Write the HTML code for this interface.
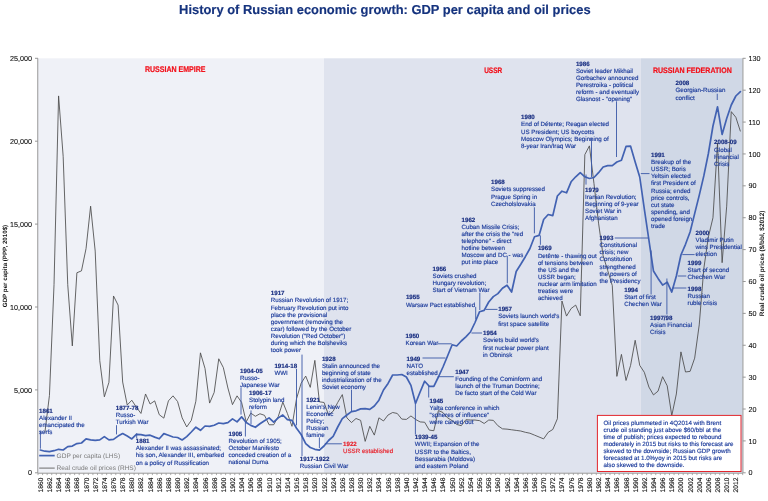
<!DOCTYPE html>
<html lang="en"><head><meta charset="utf-8"><title>History of Russian economic growth: GDP per capita and oil prices</title>
<style>html,body{margin:0;padding:0;background:#fff}svg{display:block;will-change:transform}</style></head>
<body>
<svg width="768" height="501" viewBox="0 0 768 501" text-rendering="geometricPrecision" font-family="'Liberation Sans', sans-serif">
<rect width="768" height="501" fill="#fff"/>
<rect x="38.0" y="58.3" width="286.00" height="414.50" fill="#eff1f7"/>
<rect x="324.00" y="58.3" width="316.80" height="414.50" fill="#dfe3ee"/>
<rect x="640.80" y="58.3" width="101.90" height="414.50" fill="#d0d8e6"/>
<g stroke="#979797" stroke-width="1" fill="none">
<path d="M37.75 58.3V472.8"/>
<path d="M742.95 58.3V472.8"/>
<path d="M37.75 473.2H742.95"/>
<path d="M35.0 472.80H38.0M35.0 389.90H38.0M35.0 307.00H38.0M35.0 224.10H38.0M35.0 141.20H38.0M35.0 58.30H38.0M742.70 472.80h3M742.70 440.92h3M742.70 409.03h3M742.70 377.15h3M742.70 345.26h3M742.70 313.38h3M742.70 281.49h3M742.70 249.61h3M742.70 217.72h3M742.70 185.84h3M742.70 153.95h3M742.70 122.07h3M742.70 90.18h3M742.70 58.30h3"/>
<path d="M38.00 473.2v1.9M42.58 473.2v1.9M47.15 473.2v1.9M51.73 473.2v1.9M56.30 473.2v1.9M60.88 473.2v1.9M65.46 473.2v1.9M70.03 473.2v1.9M74.61 473.2v1.9M79.18 473.2v1.9M83.76 473.2v1.9M88.34 473.2v1.9M92.91 473.2v1.9M97.49 473.2v1.9M102.06 473.2v1.9M106.64 473.2v1.9M111.22 473.2v1.9M115.79 473.2v1.9M120.37 473.2v1.9M124.94 473.2v1.9M129.52 473.2v1.9M134.10 473.2v1.9M138.67 473.2v1.9M143.25 473.2v1.9M147.82 473.2v1.9M152.40 473.2v1.9M156.98 473.2v1.9M161.55 473.2v1.9M166.13 473.2v1.9M170.70 473.2v1.9M175.28 473.2v1.9M179.86 473.2v1.9M184.43 473.2v1.9M189.01 473.2v1.9M193.58 473.2v1.9M198.16 473.2v1.9M202.74 473.2v1.9M207.31 473.2v1.9M211.89 473.2v1.9M216.46 473.2v1.9M221.04 473.2v1.9M225.62 473.2v1.9M230.19 473.2v1.9M234.77 473.2v1.9M239.34 473.2v1.9M243.92 473.2v1.9M248.50 473.2v1.9M253.07 473.2v1.9M257.65 473.2v1.9M262.22 473.2v1.9M266.80 473.2v1.9M271.38 473.2v1.9M275.95 473.2v1.9M280.53 473.2v1.9M285.10 473.2v1.9M289.68 473.2v1.9M294.26 473.2v1.9M298.83 473.2v1.9M303.41 473.2v1.9M307.98 473.2v1.9M312.56 473.2v1.9M317.14 473.2v1.9M321.71 473.2v1.9M326.29 473.2v1.9M330.86 473.2v1.9M335.44 473.2v1.9M340.02 473.2v1.9M344.59 473.2v1.9M349.17 473.2v1.9M353.74 473.2v1.9M358.32 473.2v1.9M362.90 473.2v1.9M367.47 473.2v1.9M372.05 473.2v1.9M376.62 473.2v1.9M381.20 473.2v1.9M385.78 473.2v1.9M390.35 473.2v1.9M394.93 473.2v1.9M399.50 473.2v1.9M404.08 473.2v1.9M408.66 473.2v1.9M413.23 473.2v1.9M417.81 473.2v1.9M422.38 473.2v1.9M426.96 473.2v1.9M431.54 473.2v1.9M436.11 473.2v1.9M440.69 473.2v1.9M445.26 473.2v1.9M449.84 473.2v1.9M454.42 473.2v1.9M458.99 473.2v1.9M463.57 473.2v1.9M468.14 473.2v1.9M472.72 473.2v1.9M477.30 473.2v1.9M481.87 473.2v1.9M486.45 473.2v1.9M491.02 473.2v1.9M495.60 473.2v1.9M500.18 473.2v1.9M504.75 473.2v1.9M509.33 473.2v1.9M513.90 473.2v1.9M518.48 473.2v1.9M523.06 473.2v1.9M527.63 473.2v1.9M532.21 473.2v1.9M536.78 473.2v1.9M541.36 473.2v1.9M545.94 473.2v1.9M550.51 473.2v1.9M555.09 473.2v1.9M559.66 473.2v1.9M564.24 473.2v1.9M568.82 473.2v1.9M573.39 473.2v1.9M577.97 473.2v1.9M582.54 473.2v1.9M587.12 473.2v1.9M591.70 473.2v1.9M596.27 473.2v1.9M600.85 473.2v1.9M605.42 473.2v1.9M610.00 473.2v1.9M614.58 473.2v1.9M619.15 473.2v1.9M623.73 473.2v1.9M628.30 473.2v1.9M632.88 473.2v1.9M637.46 473.2v1.9M642.03 473.2v1.9M646.61 473.2v1.9M651.18 473.2v1.9M655.76 473.2v1.9M660.34 473.2v1.9M664.91 473.2v1.9M669.49 473.2v1.9M674.06 473.2v1.9M678.64 473.2v1.9M683.22 473.2v1.9M687.79 473.2v1.9M692.37 473.2v1.9M696.94 473.2v1.9M701.52 473.2v1.9M706.10 473.2v1.9M710.67 473.2v1.9M715.25 473.2v1.9M719.82 473.2v1.9M724.40 473.2v1.9M728.98 473.2v1.9M733.55 473.2v1.9M738.13 473.2v1.9M742.70 473.2v1.9" stroke-width="0.8"/>
</g>
<g font-size="7.2" fill="#111" stroke="#111" stroke-width="0.1">
<text x="31.9" y="475.40" text-anchor="end">0</text>
<text x="31.9" y="392.50" text-anchor="end">5,000</text>
<text x="31.9" y="309.60" text-anchor="end">10,000</text>
<text x="31.9" y="226.70" text-anchor="end">15,000</text>
<text x="31.9" y="143.80" text-anchor="end">20,000</text>
<text x="31.9" y="60.90" text-anchor="end">25,000</text>
<text x="748.6" y="475.40">0</text>
<text x="748.6" y="443.52">10</text>
<text x="748.6" y="411.63">20</text>
<text x="748.6" y="379.75">30</text>
<text x="748.6" y="347.86">40</text>
<text x="748.6" y="315.98">50</text>
<text x="748.6" y="284.09">60</text>
<text x="748.6" y="252.21">70</text>
<text x="748.6" y="220.32">80</text>
<text x="748.6" y="188.44">90</text>
<text x="748.6" y="156.55">100</text>
<text x="748.6" y="124.67">110</text>
<text x="748.6" y="92.78">120</text>
<text x="748.6" y="60.90">130</text>
</g>
<g font-size="6.7" fill="#111" stroke="#111" stroke-width="0.12" text-anchor="end">
<text transform="translate(42.79 477.6) rotate(-90)">1860</text>
<text transform="translate(51.94 477.6) rotate(-90)">1862</text>
<text transform="translate(61.09 477.6) rotate(-90)">1864</text>
<text transform="translate(70.24 477.6) rotate(-90)">1866</text>
<text transform="translate(79.40 477.6) rotate(-90)">1868</text>
<text transform="translate(88.55 477.6) rotate(-90)">1870</text>
<text transform="translate(97.70 477.6) rotate(-90)">1872</text>
<text transform="translate(106.85 477.6) rotate(-90)">1874</text>
<text transform="translate(116.00 477.6) rotate(-90)">1876</text>
<text transform="translate(125.16 477.6) rotate(-90)">1878</text>
<text transform="translate(134.31 477.6) rotate(-90)">1880</text>
<text transform="translate(143.46 477.6) rotate(-90)">1882</text>
<text transform="translate(152.61 477.6) rotate(-90)">1884</text>
<text transform="translate(161.76 477.6) rotate(-90)">1886</text>
<text transform="translate(170.92 477.6) rotate(-90)">1888</text>
<text transform="translate(180.07 477.6) rotate(-90)">1890</text>
<text transform="translate(189.22 477.6) rotate(-90)">1892</text>
<text transform="translate(198.37 477.6) rotate(-90)">1894</text>
<text transform="translate(207.52 477.6) rotate(-90)">1896</text>
<text transform="translate(216.68 477.6) rotate(-90)">1898</text>
<text transform="translate(225.83 477.6) rotate(-90)">1900</text>
<text transform="translate(234.98 477.6) rotate(-90)">1902</text>
<text transform="translate(244.13 477.6) rotate(-90)">1904</text>
<text transform="translate(253.28 477.6) rotate(-90)">1906</text>
<text transform="translate(262.44 477.6) rotate(-90)">1908</text>
<text transform="translate(271.59 477.6) rotate(-90)">1910</text>
<text transform="translate(280.74 477.6) rotate(-90)">1912</text>
<text transform="translate(289.89 477.6) rotate(-90)">1914</text>
<text transform="translate(299.04 477.6) rotate(-90)">1916</text>
<text transform="translate(308.20 477.6) rotate(-90)">1918</text>
<text transform="translate(317.35 477.6) rotate(-90)">1920</text>
<text transform="translate(326.50 477.6) rotate(-90)">1922</text>
<text transform="translate(335.65 477.6) rotate(-90)">1924</text>
<text transform="translate(344.80 477.6) rotate(-90)">1926</text>
<text transform="translate(353.96 477.6) rotate(-90)">1928</text>
<text transform="translate(363.11 477.6) rotate(-90)">1930</text>
<text transform="translate(372.26 477.6) rotate(-90)">1932</text>
<text transform="translate(381.41 477.6) rotate(-90)">1934</text>
<text transform="translate(390.56 477.6) rotate(-90)">1936</text>
<text transform="translate(399.72 477.6) rotate(-90)">1938</text>
<text transform="translate(408.87 477.6) rotate(-90)">1940</text>
<text transform="translate(418.02 477.6) rotate(-90)">1942</text>
<text transform="translate(427.17 477.6) rotate(-90)">1944</text>
<text transform="translate(436.32 477.6) rotate(-90)">1946</text>
<text transform="translate(445.48 477.6) rotate(-90)">1948</text>
<text transform="translate(454.63 477.6) rotate(-90)">1950</text>
<text transform="translate(463.78 477.6) rotate(-90)">1952</text>
<text transform="translate(472.93 477.6) rotate(-90)">1954</text>
<text transform="translate(482.08 477.6) rotate(-90)">1956</text>
<text transform="translate(491.24 477.6) rotate(-90)">1958</text>
<text transform="translate(500.39 477.6) rotate(-90)">1960</text>
<text transform="translate(509.54 477.6) rotate(-90)">1962</text>
<text transform="translate(518.69 477.6) rotate(-90)">1964</text>
<text transform="translate(527.84 477.6) rotate(-90)">1966</text>
<text transform="translate(537.00 477.6) rotate(-90)">1968</text>
<text transform="translate(546.15 477.6) rotate(-90)">1970</text>
<text transform="translate(555.30 477.6) rotate(-90)">1972</text>
<text transform="translate(564.45 477.6) rotate(-90)">1974</text>
<text transform="translate(573.60 477.6) rotate(-90)">1976</text>
<text transform="translate(582.76 477.6) rotate(-90)">1978</text>
<text transform="translate(591.91 477.6) rotate(-90)">1980</text>
<text transform="translate(601.06 477.6) rotate(-90)">1982</text>
<text transform="translate(610.21 477.6) rotate(-90)">1984</text>
<text transform="translate(619.36 477.6) rotate(-90)">1986</text>
<text transform="translate(628.52 477.6) rotate(-90)">1988</text>
<text transform="translate(637.67 477.6) rotate(-90)">1990</text>
<text transform="translate(646.82 477.6) rotate(-90)">1992</text>
<text transform="translate(655.97 477.6) rotate(-90)">1994</text>
<text transform="translate(665.12 477.6) rotate(-90)">1996</text>
<text transform="translate(674.28 477.6) rotate(-90)">1998</text>
<text transform="translate(683.43 477.6) rotate(-90)">2000</text>
<text transform="translate(692.58 477.6) rotate(-90)">2002</text>
<text transform="translate(701.73 477.6) rotate(-90)">2004</text>
<text transform="translate(710.88 477.6) rotate(-90)">2006</text>
<text transform="translate(720.04 477.6) rotate(-90)">2008</text>
<text transform="translate(729.19 477.6) rotate(-90)">2010</text>
<text transform="translate(738.34 477.6) rotate(-90)">2012</text>
</g>
<text transform="translate(6.6 266) rotate(-90)" font-size="6.2" font-weight="bold" text-anchor="middle" fill="#111">GDP per capita (PPP, 2010$)</text>
<text transform="translate(764.2 263.4) rotate(-90)" font-size="6.45" font-weight="bold" text-anchor="middle" fill="#111">Real crude oil prices ($/bbl, $2012)</text>
<text x="179.1" y="13.8" font-size="12.95" font-weight="bold" textLength="411.5" lengthAdjust="spacingAndGlyphs" fill="#15337e" stroke="#15337e" stroke-width="0.15">History of Russian economic growth: GDP per capita and oil prices</text>
<g font-weight="bold" fill="#f2121c" stroke="#f2121c" stroke-width="0.22">
<text x="144.9" y="72.0" font-size="8.2" textLength="60.6" lengthAdjust="spacingAndGlyphs">RUSSIAN EMPIRE</text>
<text x="484.2" y="73.2" font-size="7.9" textLength="18.0" lengthAdjust="spacingAndGlyphs">USSR</text>
<text x="652.9" y="73.1" font-size="7.9" textLength="78.9" lengthAdjust="spacingAndGlyphs">RUSSIAN FEDERATION</text>
</g>
<polyline points="44.86,432.73 49.44,395.41 54.02,284.68 58.59,95.92 63.17,156.32 67.74,284.68 72.32,345.92 76.90,272.74 81.47,270.86 86.05,248.56 90.62,206.16 95.20,251.07 99.78,360.68 104.35,396.80 108.93,382.35 113.50,295.98 118.08,305.09 122.66,382.04 127.23,404.96 131.81,400.25 136.38,407.16 140.96,413.44 145.54,393.97 150.11,404.02 154.69,400.88 159.26,414.70 163.84,418.15 168.42,400.88 172.99,395.85 177.57,401.51 182.14,417.84 186.72,426.95 191.30,420.35 195.87,401.19 200.45,352.83 205.02,368.53 209.60,403.08 214.18,392.40 218.75,358.79 223.33,367.59 227.90,388.00 232.48,404.65 237.06,395.85 241.63,402.45 246.21,421.92 250.78,413.13 255.36,416.27 259.94,413.76 264.51,415.33 269.09,424.75 273.66,424.75 278.24,416.58 282.82,402.14 287.39,413.44 291.97,426.32 296.54,398.68 301.12,383.29 305.70,376.07 310.27,387.37 314.85,360.37 319.42,401.82 324.00,402.45 328.58,415.01 333.15,411.24 337.73,402.45 342.30,394.60 346.88,417.84 351.46,422.55 356.03,418.47 360.61,420.35 365.18,441.39 369.76,426.32 374.34,435.11 378.91,417.84 383.49,420.98 388.06,415.01 392.64,412.50 397.22,413.44 401.79,419.10 406.37,419.41 410.94,415.95 415.52,419.41 420.10,421.92 424.67,422.24 429.25,430.09 433.82,430.72 438.40,410.62 442.98,412.50 447.55,417.84 452.13,420.67 456.70,424.43 461.28,425.69 465.86,419.72 470.43,420.04 475.01,420.04 479.58,420.67 484.16,423.49 488.74,420.04 493.31,420.35 497.89,425.69 502.46,428.83 507.04,429.15 511.62,429.77 516.19,430.40 520.77,431.03 525.34,432.29 529.92,433.23 534.50,435.11 539.07,437.00 543.65,438.88 548.22,432.29 552.80,429.46 557.38,418.78 561.95,301.01 566.53,316.08 571.10,308.54 575.68,305.09 580.26,315.77 584.83,154.65 589.41,145.86 593.98,183.55 598.56,223.12 603.14,255.78 607.71,270.54 612.29,285.62 616.86,376.38 621.44,354.40 626.02,380.47 630.59,365.39 635.17,340.27 639.74,365.39 644.32,372.30 648.90,387.06 653.47,394.91 658.05,391.14 662.62,376.70 667.20,385.80 671.78,415.64 676.35,393.97 680.93,351.89 685.50,371.99 690.08,371.36 694.66,358.17 699.23,324.88 703.81,268.66 708.38,236.94 712.96,217.78 717.54,143.03 722.11,262.69 726.69,206.16 731.26,111.63 735.84,117.28 740.42,131.41" fill="none" stroke="#4a4a4a" stroke-width="0.85" stroke-linejoin="miter" stroke-miterlimit="3"/>
<polyline points="40.29,450.00 44.86,451.20 49.44,451.70 54.02,450.70 58.59,449.30 63.17,450.00 67.74,446.60 72.32,446.10 76.90,443.60 81.47,443.00 86.05,438.90 90.62,439.90 95.20,440.30 99.78,439.90 104.35,436.60 108.93,439.90 113.50,439.40 118.08,436.10 122.66,433.60 127.23,436.10 131.81,438.90 136.38,434.40 140.96,434.70 145.54,435.60 150.11,435.20 154.69,437.10 159.26,438.80 163.84,433.60 168.42,435.30 172.99,437.00 177.57,437.50 182.14,440.00 186.72,436.60 191.30,432.00 195.87,427.20 200.45,430.30 205.02,426.00 209.60,426.40 214.18,425.20 218.75,423.00 223.33,423.60 227.90,422.70 232.48,418.90 237.06,421.90 241.63,416.90 246.21,422.50 250.78,425.40 255.36,427.30 259.94,423.80 264.51,420.80 269.09,417.90 273.66,422.10 278.24,417.90 282.82,415.00 287.39,419.60 291.97,420.40 296.54,428.30 301.12,434.50 305.70,443.60 310.27,447.50 314.85,449.30 319.42,450.20 324.00,446.00 328.58,440.50 333.15,436.30 337.73,427.00 342.30,418.70 346.88,415.00 351.46,411.60 356.03,410.80 360.61,408.90 365.18,408.60 369.76,409.40 374.34,406.00 378.91,400.20 383.49,390.00 388.06,383.40 392.64,375.00 397.22,375.00 401.79,374.50 406.37,377.00 410.94,385.40 415.52,403.50 420.10,392.00 424.67,381.20 429.25,386.30 433.82,386.30 438.40,377.00 442.98,367.00 447.55,356.00 452.13,344.80 456.70,346.00 461.28,341.00 465.86,336.80 470.43,332.00 475.01,322.50 479.58,311.70 484.16,310.40 488.74,302.00 493.31,296.60 497.89,293.60 502.46,288.30 507.04,285.20 511.62,292.00 516.19,271.50 520.77,264.30 525.34,256.70 529.92,248.50 534.50,236.80 539.07,235.40 543.65,219.50 548.22,214.50 552.80,215.60 557.38,196.00 561.95,191.20 566.53,192.80 571.10,181.80 575.68,176.80 580.26,172.70 584.83,176.80 589.41,178.50 593.98,177.50 598.56,172.70 603.14,167.00 607.71,165.60 612.29,165.60 616.86,162.00 621.44,160.30 626.02,146.40 630.59,146.20 635.17,162.00 639.74,177.00 644.32,209.00 648.90,240.00 653.47,271.00 658.05,278.40 662.62,285.10 667.20,282.20 671.78,292.10 676.35,276.00 680.93,255.00 685.50,244.30 690.08,232.00 694.66,213.60 699.23,195.40 703.81,175.90 708.38,153.50 712.96,126.00 717.54,106.80 722.11,134.40 726.69,118.50 731.26,105.00 735.84,96.00 740.42,91.60" fill="none" stroke="#4262b2" stroke-width="1.7" stroke-linejoin="round" stroke-linecap="round"/>
<path d="M39.2 455.6H54.7" stroke="#4262b2" stroke-width="1.7"/>
<path d="M39.2 468.1H54.7" stroke="#777" stroke-width="1.1"/>
<g font-size="6.55" fill="#7a7a7a"><text x="56.6" y="457.6">GDP per capita (LHS)</text><text x="56.6" y="470.2">Real crude oil prices (RHS)</text></g>
<path d="M40.4 431L40.4 448.7M116.5 425.2L116.5 434.4M136.7 433.2L136.7 438.6M241 387.5L241 414.6M251 410.4L251 424M245.4 421.9L245.4 436.5M296.5 368.8L296.5 425.4M302 354.6L302 456M319.4 437.5L319.4 448M324.8 443.8L341.9 443.8M351.5 389.6L351.5 411.5M415.4 404L415.4 434.6M428.7 386L428.7 397.5M437.8 376.7L453.8 376.7M422.5 358L445.5 358M437.8 343.8L451.7 343.8M471.5 333L482 333M475.7 306.9L475.7 319.4M479.8 292.7L479.8 310M485.5 309.4L497.5 309.4M507.3 255.8L507.3 283.3M534.4 207.3L534.4 233.3M540.4 235.4L540.4 244.8M586 174.5L586 184.6M591.5 138.3L591.5 177M616.5 101.4L616.5 157M640.8 173.6L649.5 173.6M614.8 238L648.2 238M651.1 250.5L651.1 294.5M666.9 278.5L666.9 314.5M672.5 288L686.4 288M677.8 276L686.3 276M682.3 254.6L694.6 254.6M717.25 93.75L717.25 100" stroke="#3a58a6" stroke-width="0.9" fill="none"/>
<g font-size="6.2" fill="#1e3d9c" stroke="#1e3d9c" stroke-width="0.16" stroke-linejoin="round">
<text x="39.0" y="412.95"><tspan font-weight="bold" fill="#172d80" stroke="#172d80">1861</tspan><tspan x="39.0" dy="7.12">Alexander II</tspan><tspan x="39.0" dy="7.12">emancipated the</tspan><tspan x="39.0" dy="7.12">serfs</tspan></text>
<text x="115.7" y="410.05"><tspan font-weight="bold" fill="#172d80" stroke="#172d80">1877-78</tspan><tspan x="115.7" dy="7.12">Russo-</tspan><tspan x="115.7" dy="7.12">Turkish War</tspan></text>
<text x="135.8" y="443.15"><tspan font-weight="bold" fill="#172d80" stroke="#172d80">1881</tspan><tspan x="135.8" dy="7.12">Alexander II was assassinated;</tspan><tspan x="135.8" dy="7.12">his son, Alexander III, embarked</tspan><tspan x="135.8" dy="7.12">on a policy of Russification</tspan></text>
<text x="240.0" y="372.55"><tspan font-weight="bold" fill="#172d80" stroke="#172d80">1904-05</tspan><tspan x="240.0" dy="7.12">Russo-</tspan><tspan x="240.0" dy="7.12">Japanese War</tspan></text>
<text x="249.0" y="394.75"><tspan font-weight="bold" fill="#172d80" stroke="#172d80">1906-17</tspan><tspan x="249.0" dy="7.12">Stolypin land</tspan><tspan x="249.0" dy="7.12">reform</tspan></text>
<text x="228.5" y="435.85"><tspan font-weight="bold" fill="#172d80" stroke="#172d80">1905</tspan><tspan x="228.5" dy="7.12">Revolution of 1905;</tspan><tspan x="228.5" dy="7.12">October Manifesto</tspan><tspan x="228.5" dy="7.12">conceded creation of a</tspan><tspan x="228.5" dy="7.12">national Duma</tspan></text>
<text x="274.4" y="367.85"><tspan font-weight="bold" fill="#172d80" stroke="#172d80">1914-18</tspan><tspan x="274.4" dy="7.12">WWI</tspan></text>
<text x="270.8" y="295.35"><tspan font-weight="bold" fill="#172d80" stroke="#172d80">1917</tspan><tspan x="270.8" dy="7.12">Russian Revolution of 1917;</tspan><tspan x="270.8" dy="7.12">February Revolution put into</tspan><tspan x="270.8" dy="7.12">place the provisional</tspan><tspan x="270.8" dy="7.12">government (removing the</tspan><tspan x="270.8" dy="7.12">czar) followed by the October</tspan><tspan x="270.8" dy="7.12">Revolution ("Red October")</tspan><tspan x="270.8" dy="7.12">during which the Bolsheviks</tspan><tspan x="270.8" dy="7.12">took power</tspan></text>
<text x="306.2" y="401.85"><tspan font-weight="bold" fill="#172d80" stroke="#172d80">1921</tspan><tspan x="306.2" dy="7.12">Lenin’s New</tspan><tspan x="306.2" dy="7.12">Economic</tspan><tspan x="306.2" dy="7.12">Policy;</tspan><tspan x="306.2" dy="7.12">Russian</tspan><tspan x="306.2" dy="7.12">famine</tspan></text>
<text x="299.8" y="460.55"><tspan font-weight="bold" fill="#172d80" stroke="#172d80">1917-1922</tspan><tspan x="299.8" dy="7.12">Russian Civil War</tspan></text>
<text x="321.9" y="360.55"><tspan font-weight="bold" fill="#172d80" stroke="#172d80">1928</tspan><tspan x="321.9" dy="7.12">Stalin announced the</tspan><tspan x="321.9" dy="7.12">beginning of state</tspan><tspan x="321.9" dy="7.12">industrialization of the</tspan><tspan x="321.9" dy="7.12">Soviet economy</tspan></text>
<text x="414.8" y="439.35"><tspan font-weight="bold" fill="#172d80" stroke="#172d80">1939-45</tspan><tspan x="414.8" dy="7.12">WWII; Expansion of the</tspan><tspan x="414.8" dy="7.12">USSR to the Baltics,</tspan><tspan x="414.8" dy="7.12">Bessarabia (Moldova)</tspan><tspan x="414.8" dy="7.12">and eastern Poland</tspan></text>
<text x="429.5" y="402.85"><tspan font-weight="bold" fill="#172d80" stroke="#172d80">1945</tspan><tspan x="429.5" dy="7.12">Yalta conference in which</tspan><tspan x="429.5" dy="7.12">"spheres of influence"</tspan><tspan x="429.5" dy="7.12">were carved out</tspan></text>
<text x="455.2" y="373.55"><tspan font-weight="bold" fill="#172d80" stroke="#172d80">1947</tspan><tspan x="455.2" dy="7.12">Founding of the Cominform and</tspan><tspan x="455.2" dy="7.12">launch of the Truman Doctrine;</tspan><tspan x="455.2" dy="7.12">De facto start of the Cold War</tspan></text>
<text x="406.5" y="360.75"><tspan font-weight="bold" fill="#172d80" stroke="#172d80">1949</tspan><tspan x="406.5" dy="7.12">NATO</tspan><tspan x="406.5" dy="7.12">established</tspan></text>
<text x="405.5" y="338.05"><tspan font-weight="bold" fill="#172d80" stroke="#172d80">1950</tspan><tspan x="405.5" dy="7.12">Korean War</tspan></text>
<text x="483.0" y="335.35"><tspan font-weight="bold" fill="#172d80" stroke="#172d80">1954</tspan><tspan x="483.0" dy="7.12">Soviets build world’s</tspan><tspan x="483.0" dy="7.12">first nuclear power plant</tspan><tspan x="483.0" dy="7.12">in Obninsk</tspan></text>
<text x="405.9" y="299.45"><tspan font-weight="bold" fill="#172d80" stroke="#172d80">1955</tspan><tspan x="405.9" dy="7.12">Warsaw Pact established</tspan></text>
<text x="432.5" y="270.55"><tspan font-weight="bold" fill="#172d80" stroke="#172d80">1956</tspan><tspan x="432.5" dy="7.12">Soviets crushed</tspan><tspan x="432.5" dy="7.12">Hungary revolution;</tspan><tspan x="432.5" dy="7.12">Start of Vietnam War</tspan></text>
<text x="498.2" y="311.35"><tspan font-weight="bold" fill="#172d80" stroke="#172d80">1957</tspan><tspan x="498.2" dy="7.12">Soviets launch world’s</tspan><tspan x="498.2" dy="7.12">first space satellite</tspan></text>
<text x="461.5" y="221.75"><tspan font-weight="bold" fill="#172d80" stroke="#172d80">1962</tspan><tspan x="461.5" dy="7.12">Cuban Missile Crisis;</tspan><tspan x="461.5" dy="7.12">after the crisis the "red</tspan><tspan x="461.5" dy="7.12">telephone" - direct</tspan><tspan x="461.5" dy="7.12">hotline between</tspan><tspan x="461.5" dy="7.12">Moscow and DC - was</tspan><tspan x="461.5" dy="7.12">put into place</tspan></text>
<text x="491.0" y="184.35"><tspan font-weight="bold" fill="#172d80" stroke="#172d80">1968</tspan><tspan x="491.0" dy="7.12">Soviets suppressed</tspan><tspan x="491.0" dy="7.12">Prague Spring in</tspan><tspan x="491.0" dy="7.12">Czecholslovakia</tspan></text>
<text x="537.9" y="250.45"><tspan font-weight="bold" fill="#172d80" stroke="#172d80">1969</tspan><tspan x="537.9" dy="7.12">Detênte - thawing out</tspan><tspan x="537.9" dy="7.12">of tensions between</tspan><tspan x="537.9" dy="7.12">the US and the</tspan><tspan x="537.9" dy="7.12">USSR began;</tspan><tspan x="537.9" dy="7.12">nuclear arm limitation</tspan><tspan x="537.9" dy="7.12">treaties were</tspan><tspan x="537.9" dy="7.12">achieved</tspan></text>
<text x="585.0" y="191.75"><tspan font-weight="bold" fill="#172d80" stroke="#172d80">1979</tspan><tspan x="585.0" dy="7.12">Iranian Revolution;</tspan><tspan x="585.0" dy="7.12">Beginning of 9-year</tspan><tspan x="585.0" dy="7.12">Soviet War in</tspan><tspan x="585.0" dy="7.12">Afghanistan</tspan></text>
<text x="521.0" y="119.35"><tspan font-weight="bold" fill="#172d80" stroke="#172d80">1980</tspan><tspan x="521.0" dy="7.12">End of Détente; Reagan elected</tspan><tspan x="521.0" dy="7.12">US President; US boycotts</tspan><tspan x="521.0" dy="7.12">Moscow Olympics; Beginning of</tspan><tspan x="521.0" dy="7.12">8-year Iran/Iraq War</tspan></text>
<text x="575.9" y="65.85"><tspan font-weight="bold" fill="#172d80" stroke="#172d80">1986</tspan><tspan x="575.9" dy="7.12">Soviet leader Mikhail</tspan><tspan x="575.9" dy="7.12">Gorbachev announced</tspan><tspan x="575.9" dy="7.12">Perestroika - political</tspan><tspan x="575.9" dy="7.12">reform - and eventually</tspan><tspan x="575.9" dy="7.12">Glasnost - "opening"</tspan></text>
<text x="651.0" y="156.95"><tspan font-weight="bold" fill="#172d80" stroke="#172d80">1991</tspan><tspan x="651.0" dy="7.12">Breakup of the</tspan><tspan x="651.0" dy="7.12">USSR; Boris</tspan><tspan x="651.0" dy="7.12">Yeltsin elected</tspan><tspan x="651.0" dy="7.12">first President of</tspan><tspan x="651.0" dy="7.12">Russia; ended</tspan><tspan x="651.0" dy="7.12">price controls,</tspan><tspan x="651.0" dy="7.12">cut state</tspan><tspan x="651.0" dy="7.12">spending, and</tspan><tspan x="651.0" dy="7.12">opened foreign</tspan><tspan x="651.0" dy="7.12">trade</tspan></text>
<text x="599.6" y="240.05"><tspan font-weight="bold" fill="#172d80" stroke="#172d80">1993</tspan><tspan x="599.6" dy="7.12">Constitutional</tspan><tspan x="599.6" dy="7.12">crisis; new</tspan><tspan x="599.6" dy="7.12">Constitution</tspan><tspan x="599.6" dy="7.12">strengthened</tspan><tspan x="599.6" dy="7.12">the powers of</tspan><tspan x="599.6" dy="7.12">the Presidency</tspan></text>
<text x="624.2" y="292.25"><tspan font-weight="bold" fill="#172d80" stroke="#172d80">1994</tspan><tspan x="624.2" dy="7.12">Start of first</tspan><tspan x="624.2" dy="7.12">Chechen War</tspan></text>
<text x="650.1" y="320.25"><tspan font-weight="bold" fill="#172d80" stroke="#172d80">1997/98</tspan><tspan x="650.1" dy="7.12">Asian Financial</tspan><tspan x="650.1" dy="7.12">Crisis</tspan></text>
<text x="687.6" y="290.65"><tspan font-weight="bold" fill="#172d80" stroke="#172d80">1998</tspan><tspan x="687.6" dy="7.12">Russian</tspan><tspan x="687.6" dy="7.12">ruble crisis</tspan></text>
<text x="687.6" y="264.85"><tspan font-weight="bold" fill="#172d80" stroke="#172d80">1999</tspan><tspan x="687.6" dy="7.12">Start of second</tspan><tspan x="687.6" dy="7.12">Chechen War</tspan></text>
<text x="695.5" y="235.05"><tspan font-weight="bold" fill="#172d80" stroke="#172d80">2000</tspan><tspan x="695.5" dy="7.12">Vladimir Putin</tspan><tspan x="695.5" dy="7.12">wins Presidential</tspan><tspan x="695.5" dy="7.12">election</tspan></text>
<text x="675.5" y="85.35"><tspan font-weight="bold" fill="#172d80" stroke="#172d80">2008</tspan><tspan x="675.5" dy="7.12">Georgian-Russian</tspan><tspan x="675.5" dy="7.12">conflict</tspan></text>
<text x="714.0" y="144.45"><tspan font-weight="bold" fill="#172d80" stroke="#172d80">2008-09</tspan><tspan x="714.0" dy="7.12">Global</tspan><tspan x="714.0" dy="7.12">Financial</tspan><tspan x="714.0" dy="7.12">Crisis</tspan></text>
</g>
<text x="343" y="445.8" font-size="6.2" fill="#e8202a" stroke="#e8202a" stroke-width="0.16"><tspan font-weight="bold">1922</tspan><tspan x="343" dy="7.12">USSR established</tspan></text>
<rect x="597.4" y="415.4" width="143.6" height="56.1" fill="#fff" stroke="#e3262d" stroke-width="1"/>
<text x="603.5" y="417.55" font-size="6.2" fill="#1e3d9c" stroke="#1e3d9c" stroke-width="0.16"><tspan x="603.5" dy="7.05">Oil prices plummeted in 4Q2014 with Brent</tspan><tspan x="603.5" dy="7.05">crude oil standing just above $60/bbl at the</tspan><tspan x="603.5" dy="7.05">time of publish; prices expected to rebound</tspan><tspan x="603.5" dy="7.05">moderately in 2015 but risks to this forecast are</tspan><tspan x="603.5" dy="7.05">skewed to the downside; Russian GDP growth</tspan><tspan x="603.5" dy="7.05">forecasted at 1.0%yoy in 2015 but risks are</tspan><tspan x="603.5" dy="7.05">also skewed to the downside.</tspan></text>
</svg>
</body></html>
